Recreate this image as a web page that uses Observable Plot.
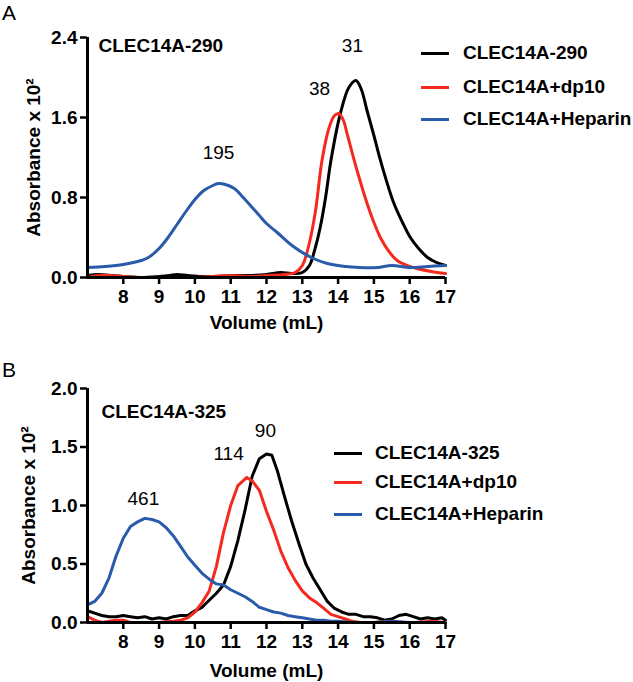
<!DOCTYPE html>
<html><head><meta charset="utf-8">
<script src="https://cdn.jsdelivr.net/npm/d3@7"></script>
<script src="https://cdn.jsdelivr.net/npm/@observablehq/plot@0.6"></script>
<style>
body{margin:0;background:#fff;}
#root{position:relative;width:633px;height:682px;font-family:"Liberation Sans",Arial,sans-serif;color:#000;overflow:hidden;}
.panel{position:absolute;left:0;}
.letter{position:absolute;font-size:21px;line-height:21px;}
.row{position:absolute;height:22px;display:flex;align-items:center;font-weight:bold;font-size:19px;white-space:nowrap;}
.swatch{display:inline-block;width:28px;height:3px;}
</style></head><body><div id="root"></div>
<script>
// ---------- data ----------
const xTicks = [8, 9, 10, 11, 12, 13, 14, 15, 16, 17];
const yTicksA = [0, 0.8, 1.6, 2.4];
const yTicksB = [0, 0.5, 1.0, 1.5, 2.0];

const seriesA = ["CLEC14A-290", "CLEC14A+dp10", "CLEC14A+Heparin"];
const seriesB = ["CLEC14A-325", "CLEC14A+dp10", "CLEC14A+Heparin"];
const colors = ["#000000", "#f42a1e", "#2a5bab"];

// Panel A: [volume mL, absorbance x 10^2]
const a290 = [[7.0,0.02],[7.3,0.03],[7.7,0.02],[8.0,0.01],[8.5,0.00],[9.0,0.01],[9.3,0.02],[9.5,0.03],[9.8,0.02],[10.2,0.01],[10.6,0.01],[11.0,0.02],[11.5,0.02],[12.0,0.03],[12.4,0.05],[12.7,0.04],[13.0,0.05],[13.2,0.12],[13.35,0.28],[13.5,0.50],[13.65,0.80],[13.8,1.17],[14.05,1.62],[14.3,1.90],[14.5,1.97],[14.65,1.88],[14.8,1.68],[15.0,1.42],[15.2,1.15],[15.55,0.75],[15.8,0.55],[16.0,0.41],[16.25,0.29],[16.5,0.20],[16.75,0.15],[17.0,0.12]];
const aDp10 = [[7.0,0.00],[7.3,0.02],[7.6,0.02],[8.0,0.01],[8.5,0.00],[9.0,0.00],[10.0,0.00],[10.5,0.01],[11.0,0.02],[11.5,0.01],[12.0,0.02],[12.5,0.03],[12.8,0.05],[13.0,0.12],[13.2,0.35],[13.37,0.67],[13.55,1.17],[13.75,1.50],[13.9,1.62],[14.02,1.64],[14.15,1.57],[14.25,1.44],[14.53,1.07],[14.81,0.74],[15.0,0.55],[15.18,0.40],[15.4,0.27],[15.65,0.17],[16.0,0.11],[16.2,0.09],[16.6,0.06],[17.0,0.04]];
const aHep = [[7.0,0.10],[7.5,0.11],[8.0,0.13],[8.5,0.17],[8.7,0.20],[9.0,0.29],[9.25,0.40],[9.5,0.53],[9.75,0.66],[10.0,0.78],[10.25,0.87],[10.5,0.92],[10.65,0.94],[10.85,0.93],[11.1,0.89],[11.35,0.80],[11.6,0.70],[11.8,0.62],[12.0,0.54],[12.3,0.45],[12.75,0.31],[13.25,0.20],[13.7,0.14],[14.2,0.11],[14.6,0.10],[15.1,0.10],[15.5,0.12],[16.0,0.10],[16.5,0.11],[17.0,0.12]];

// Panel B
const b325 = [[7.0,0.10],[7.2,0.08],[7.4,0.06],[7.6,0.05],[7.8,0.05],[8.0,0.06],[8.2,0.05],[8.4,0.04],[8.6,0.05],[8.8,0.03],[9.0,0.04],[9.2,0.03],[9.4,0.05],[9.6,0.06],[9.8,0.06],[10.0,0.10],[10.2,0.13],[10.4,0.19],[10.6,0.25],[10.8,0.32],[11.0,0.48],[11.2,0.70],[11.4,0.96],[11.6,1.25],[11.8,1.40],[12.0,1.44],[12.15,1.43],[12.3,1.30],[12.5,1.08],[12.7,0.87],[12.9,0.68],[13.1,0.50],[13.3,0.38],[13.5,0.28],[13.7,0.18],[13.9,0.12],[14.1,0.09],[14.3,0.07],[14.5,0.07],[14.7,0.05],[14.9,0.05],[15.1,0.04],[15.3,0.02],[15.5,0.03],[15.7,0.06],[15.9,0.07],[16.1,0.05],[16.3,0.03],[16.5,0.04],[16.7,0.03],[16.9,0.04],[17.0,0.02]];
const bDp10 = [[7.0,0.05],[7.2,0.02],[7.4,0.00],[7.6,0.01],[7.8,0.02],[8.0,0.02],[8.2,0.00],[8.6,0.00],[9.0,0.00],[9.4,0.01],[9.6,0.02],[9.8,0.04],[10.0,0.09],[10.2,0.17],[10.4,0.27],[10.6,0.48],[10.8,0.77],[11.0,1.00],[11.2,1.17],[11.45,1.24],[11.6,1.21],[11.8,1.13],[12.0,0.95],[12.2,0.79],[12.4,0.61],[12.6,0.47],[12.8,0.36],[13.0,0.27],[13.2,0.21],[13.4,0.17],[13.6,0.12],[13.8,0.07],[14.0,0.05],[14.2,0.03],[14.4,0.01],[14.6,0.00],[15.0,0.00],[15.4,0.01],[15.8,0.00],[16.2,0.00],[16.6,0.01],[17.0,0.00]];
const bHep = [[7.0,0.15],[7.2,0.18],[7.4,0.25],[7.6,0.38],[7.8,0.57],[8.0,0.72],[8.2,0.82],[8.4,0.86],[8.6,0.89],[8.8,0.88],[9.0,0.86],[9.2,0.81],[9.4,0.74],[9.6,0.65],[9.8,0.56],[10.0,0.49],[10.2,0.42],[10.4,0.37],[10.6,0.33],[10.8,0.32],[11.0,0.28],[11.2,0.25],[11.4,0.22],[11.6,0.18],[11.8,0.13],[12.0,0.11],[12.2,0.09],[12.4,0.08],[12.6,0.06],[12.8,0.05],[13.0,0.04],[13.2,0.03],[13.4,0.02],[13.6,0.02],[13.8,0.01],[14.0,0.01],[14.4,0.00],[15.0,0.00],[15.5,0.01],[16.0,0.00],[17.0,0.00]];

// peak annotations: [volume, absorbance, label]
const peaksA = [[14.40,2.32,"31"],[13.48,1.89,"38"],[10.66,1.25,"195"]];
const peaksB = [[11.97,1.64,"90"],[10.94,1.44,"114"],[8.56,1.06,"461"]];

// ---------- build ----------
const toRows = (names, arrs) => arrs.flatMap((arr, i) => arr.map(([v, a]) => ({series: names[i], v, a})));
const rowsA = toRows(seriesA, [a290, aDp10, aHep]);
const rowsB = toRows(seriesB, [b325, bDp10, bHep]);
const toPeaks = p => p.map(([v, a, t]) => ({v, a, t}));
const FS = 19;

function panel(o) {
  return Plot.plot({
    width: 633, height: o.height,
    marginLeft: 87, marginRight: 188, marginTop: o.marginTop, marginBottom: o.marginBottom,
    style: {fontFamily: "'Liberation Sans', Arial, sans-serif", fontSize: FS + "px", fontWeight: "bold", background: "white", color: "black", overflow: "visible"},
    x: {domain: [7, 17]},
    y: {domain: o.yDomain},
    color: {domain: o.names, range: colors},
    marks: [
      Plot.line(o.rows, {x: "v", y: "a", z: "series", stroke: "series", strokeWidth: 3, curve: o.curve}),
      Plot.axisX({ticks: xTicks, tickSize: 7, tickPadding: 5, strokeWidth: 2.5, label: null, fontSize: FS, fontWeight: "bold"}),
      Plot.axisY({ticks: o.yTicks, tickSize: 7, tickPadding: 3, strokeWidth: 2.5, tickFormat: d3.format(".1f"), label: null, fontSize: FS, fontWeight: "bold"}),
      Plot.ruleY([o.yDomain[0]], {strokeWidth: 3, stroke: "black"}),
      Plot.ruleX([7], {strokeWidth: 3, stroke: "black"}),
      Plot.text(toPeaks(o.peaks), {x: "v", y: "a", text: "t", fontWeight: "normal", fontSize: FS, lineAnchor: "middle"}),
      Plot.text([o.title], {frameAnchor: "top-left", textAnchor: "start", dx: o.titleDx, dy: o.titleDy, lineAnchor: "middle", fontSize: FS, fontWeight: "bold"}),
      Plot.text(["Volume (mL)"], {frameAnchor: "bottom", textAnchor: "middle", dy: o.xLabelDy, lineAnchor: "middle", fontSize: FS, fontWeight: "bold"}),
      Plot.text(["Absorbance x 10²"], {frameAnchor: "left", textAnchor: "middle", dx: o.yLabelDx, rotate: -90, lineAnchor: "middle", fontSize: FS, fontWeight: "bold"})
    ]
  });
}

const root = document.getElementById("root");
function place(el, top) { el.classList.add("panel"); el.style.top = top + "px"; root.appendChild(el); }

place(panel({names: seriesA, rows: rowsA, peaks: peaksA, yDomain: [0, 2.4], yTicks: yTicksA,
  height: 330, marginTop: 37, marginBottom: 53, title: "CLEC14A-290", titleDx: 11, titleDy: 8,
  xLabelDy: 45, yLabelDx: -54, curve: "catmull-rom"}), 0);
place(panel({names: seriesB, rows: rowsB, peaks: peaksB, yDomain: [0, 2.0], yTicks: yTicksB,
  height: 342, marginTop: 48, marginBottom: 60, title: "CLEC14A-325", titleDx: 14, titleDy: 23,
  xLabelDy: 48, yLabelDx: -59, curve: "linear"}), 340);

function letter(t, left, top) { const d = document.createElement("div"); d.className = "letter"; d.textContent = t; d.style.left = left + "px"; d.style.top = top + "px"; root.appendChild(d); }
letter("A", 2, 2);
letter("B", 2, 359);

function legend(names, lineX, textX, centers) {
  names.forEach((n, i) => {
    const r = document.createElement("div"); r.className = "row";
    r.style.left = lineX + "px"; r.style.top = (centers[i] - 11) + "px";
    const s = document.createElement("span"); s.className = "swatch"; s.style.background = colors[i]; s.style.marginRight = (textX - lineX - 28) + "px";
    const t = document.createElement("span"); t.textContent = n;
    r.appendChild(s); r.appendChild(t); root.appendChild(r);
  });
}
legend(seriesA, 421, 463, [53, 87, 119]);
legend(seriesB, 334, 375, [453, 482, 514]);
</script></body></html>
